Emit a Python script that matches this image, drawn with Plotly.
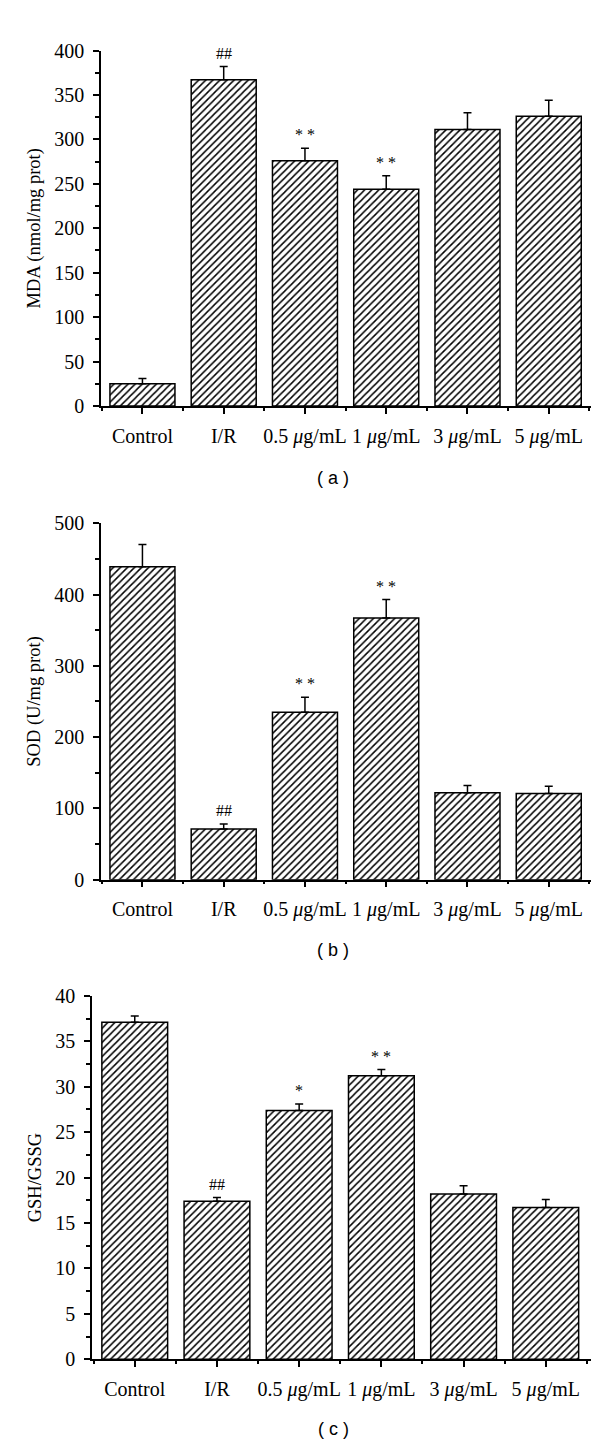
import plotly.graph_objects as go

categories = ["Control", "I/R", "0.5 <i>μ</i>g/mL", "1 <i>μ</i>g/mL", "3 <i>μ</i>g/mL", "5 <i>μ</i>g/mL"]

mda_mean = [25, 367, 276, 244, 311, 326]
mda_err = [6, 15, 14, 15, 19, 18]
mda_marks = ["", "##", "* *", "* *", "", ""]

sod_mean = [439, 71, 235, 367, 122, 121]
sod_err = [31, 7, 21, 26, 10, 10]
sod_marks = ["", "##", "* *", "* *", "", ""]

gsh_mean = [37.1, 17.4, 27.4, 31.2, 18.2, 16.7]
gsh_err = [0.7, 0.4, 0.7, 0.7, 0.9, 0.9]
gsh_marks = ["", "##", "*", "* *", "", ""]

panels = [
    dict(mean=mda_mean, err=mda_err, marks=mda_marks, title="MDA (nmol/mg prot)",
         yrange=[0, 400], dtick=50, xdom=[93/600, 583/600], ydom=[1-393/1447, 1-32/1447],
         xrange=[-0.51, 5.52], label="( a )", label_y=1-466/1447),
    dict(mean=sod_mean, err=sod_err, marks=sod_marks, title="SOD (U/mg prot)",
         yrange=[0, 500], dtick=100, xdom=[93/600, 583/600], ydom=[1-874/1447, 1-512/1447],
         xrange=[-0.51, 5.52], label="( b )", label_y=1-945/1447),
    dict(mean=gsh_mean, err=gsh_err, marks=gsh_marks, title="GSH/GSSG",
         yrange=[0, 40], dtick=5, xdom=[84/600, 583/600], ydom=[1-1361/1447, 1-992/1447],
         xrange=[-0.52, 5.55], label="( c )", label_y=1-1432/1447),
]

serif = "Liberation Serif"
fig = go.Figure()
xs = list(range(len(categories)))
annotations = []

for i, p in enumerate(panels):
    n = "" if i == 0 else str(i + 1)
    fig.add_trace(go.Bar(
        x=xs, y=p["mean"], width=0.8,
        xaxis="x" + n, yaxis="y" + n,
        marker=dict(color="white",
                    line=dict(color="black", width=1.5),
                    pattern=dict(shape="/", fgcolor="black", bgcolor="white",
                                 size=5, solidity=0.3, fillmode="replace")),
        error_y=dict(type="data", array=p["err"], arrayminus=[0]*len(xs), symmetric=False,
                     color="black", thickness=1.5, width=4),
        showlegend=False,
    ))
    axis_common = dict(showline=True, linecolor="black", linewidth=1.5, showgrid=False,
                       zeroline=False, ticks="outside", tickwidth=1.5, ticklen=6,
                       tickcolor="black", ticklabelstandoff=5,
                       tickfont=dict(family=serif, size=20, color="black"))
    fig.layout["xaxis" + n] = dict(
        **axis_common, domain=p["xdom"], anchor="y" + n, range=p["xrange"],
        tickvals=xs, ticktext=categories,
        minor=dict(tickvals=[k + 0.5 for k in range(-1, 6)], ticklen=3, tickwidth=1.5,
                   tickcolor="black", ticks="outside"),
    )
    fig.layout["yaxis" + n] = dict(
        **axis_common, domain=p["ydom"], anchor="x" + n, range=p["yrange"],
        dtick=p["dtick"],
        minor=dict(dtick=p["dtick"] / 2, ticklen=4, tickwidth=1.5, tickcolor="black",
                   ticks="outside"),
        title=dict(text=p["title"], font=dict(family=serif, size=18.5, color="black"), standoff=9),
    )
    for x, m, e, s in zip(xs, p["mean"], p["err"], p["marks"]):
        if s:
            annotations.append(dict(x=x, y=m + e, xref="x" + n, yref="y" + n, text=s,
                                    showarrow=False, yanchor="bottom", yshift=3,
                                    font=dict(family=serif, size=16, color="black")))
    annotations.append(dict(x=325/600, y=p["label_y"], xref="paper", yref="paper",
                            text=p["label"], showarrow=False, xanchor="center", yanchor="middle",
                            font=dict(family="Liberation Sans", size=18, color="black")))

fig.update_layout(
    width=600, height=1447,
    margin=dict(l=0, r=0, t=0, b=0),
    paper_bgcolor="white", plot_bgcolor="white",
    annotations=annotations,
    bargap=0.2,
)

fig.write_html("out.html")
